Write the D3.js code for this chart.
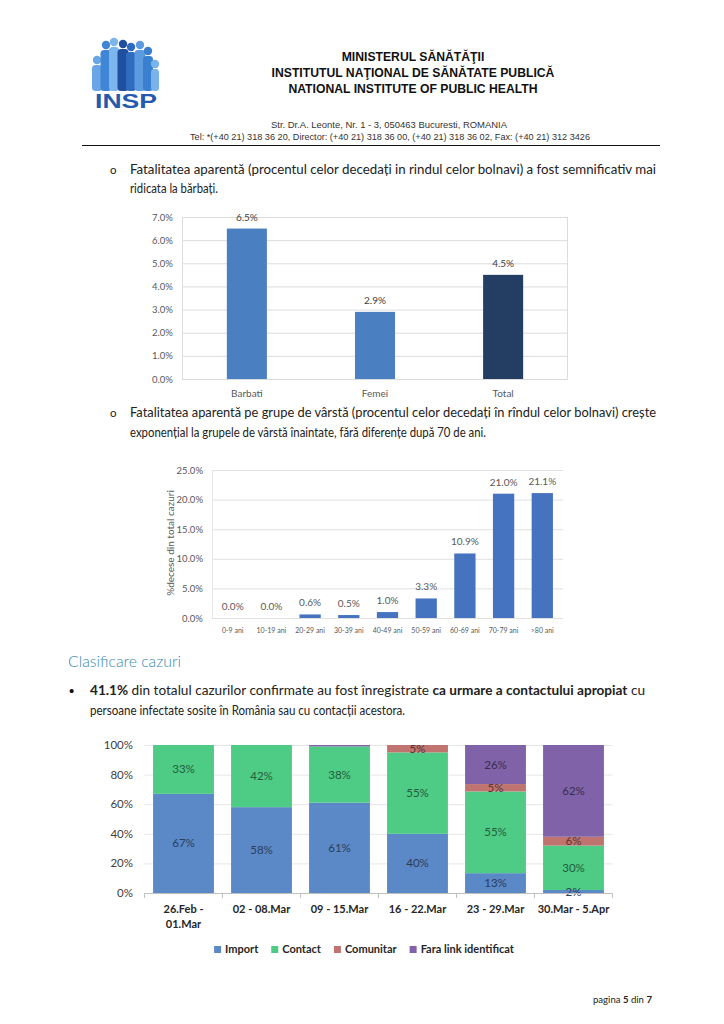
<!DOCTYPE html>
<html><head><meta charset="utf-8">
<script src="https://cdn.jsdelivr.net/npm/d3@7"></script>
<style>body{margin:0;background:#fff}svg{display:block}</style>
</head><body>
<svg id="page" width="724" height="1024"></svg>
<script>
// ---------- DATA ----------
const sexCategories = ["Barbati", "Femei", "Total"];
const sexValues = [6.5, 2.9, 4.5];
const sexTicks = [0, 1, 2, 3, 4, 5, 6, 7];

const ageCategories = ["0-9 ani", "10-19 ani", "20-29 ani", "30-39 ani", "40-49 ani", "50-59 ani", "60-69 ani", "70-79 ani", ">80 ani"];
const ageValues = [0.0, 0.0, 0.6, 0.5, 1.0, 3.3, 10.9, 21.0, 21.1];
const ageTicks = [0, 5, 10, 15, 20, 25];

const weekCategories = ["26.Feb - 01.Mar", "02 - 08.Mar", "09 - 15.Mar", "16 - 22.Mar", "23 - 29.Mar", "30.Mar - 5.Apr"];
const weekLabelLines = [["26.Feb -", "01.Mar"], ["02 - 08.Mar"], ["09 - 15.Mar"], ["16 - 22.Mar"], ["23 - 29.Mar"], ["30.Mar - 5.Apr"]];
const seriesNames = ["Import", "Contact", "Comunitar", "Fara link identificat"];
const importValues = [67, 58, 61, 40, 13.4, 2];
const contactValues = [33, 42, 38, 55, 55.2, 30];
const comunitarValues = [0, 0, 0, 5, 5, 6];
const faraLinkValues = [0, 0, 1, 0, 26.4, 62];
const weekTicks = [0, 20, 40, 60, 80, 100];

// ---------- PAGE ----------
const svg = d3.select("#page");
svg.append("rect").attr("width", 724).attr("height", 1024).attr("fill", "#fff");
const BODY = "Lato, 'Open Sans', sans-serif";
const ARIAL = "'Liberation Sans', Arial, sans-serif";

// Logo
const logo = svg.append("g");
const figs = [
  {x: 97, hy: 60, w: 10, c: "#6aa6e6"},
  {x: 106, hy: 45, w: 11, c: "#3f86d6"},
  {x: 114, hy: 42, w: 10, c: "#7db6ee"},
  {x: 123, hy: 44, w: 11, c: "#1f4f9e"},
  {x: 131, hy: 47, w: 10, c: "#2f6cc0"},
  {x: 140, hy: 45, w: 11, c: "#5d9be0"},
  {x: 148, hy: 51, w: 10, c: "#3a7fd0"},
  {x: 155, hy: 64, w: 8, c: "#7ab2ea"}
];
figs.forEach(f => {
  logo.append("circle").attr("cx", f.x).attr("cy", f.hy).attr("r", 4.2).attr("fill", f.c);
  logo.append("rect").attr("x", f.x - f.w / 2).attr("y", f.hy + 5).attr("width", f.w)
    .attr("height", 91 - f.hy - 5).attr("rx", 3.5).attr("fill", f.c);
});
logo.append("text").attr("x", 95).attr("y", 107.5).attr("textLength", 62).attr("lengthAdjust", "spacingAndGlyphs")
  .attr("font-family", ARIAL).attr("font-weight", "bold").attr("font-size", 21).attr("fill", "#2459ad").text("INSP");

// Header titles
const titles = ["MINISTERUL SĂNĂTĂŢII", "INSTITUTUL NAŢIONAL DE SĂNĂTATE PUBLICĂ", "NATIONAL INSTITUTE OF PUBLIC HEALTH"];
titles.forEach((t, i) => {
  svg.append("text").attr("x", 413).attr("y", 61 + i * 16).attr("text-anchor", "middle")
    .attr("font-family", ARIAL).attr("font-weight", "bold").attr("font-size", 12.2).attr("fill", "#111").text(t);
});
svg.append("text").attr("x", 389).attr("y", 127.5).attr("text-anchor", "middle")
  .attr("font-family", "'Liberation Sans Narrow', " + ARIAL).attr("font-size", 9.5).attr("fill", "#333")
  .attr("textLength", 236).attr("lengthAdjust", "spacingAndGlyphs")
  .text("Str. Dr.A. Leonte, Nr. 1 - 3, 050463 Bucuresti, ROMANIA");
svg.append("text").attr("x", 390).attr("y", 139.5).attr("text-anchor", "middle")
  .attr("font-family", "'Liberation Sans Narrow', " + ARIAL).attr("font-size", 9.5).attr("fill", "#333")
  .attr("textLength", 400).attr("lengthAdjust", "spacingAndGlyphs")
  .text("Tel: *(+40 21) 318 36 20, Director: (+40 21) 318 36 00, (+40 21) 318 36 02, Fax: (+40 21) 312 3426");
svg.append("line").attr("x1", 82).attr("x2", 660).attr("y1", 145.5).attr("y2", 145.5).attr("stroke", "#111").attr("stroke-width", 1);

// Body text helper
function bodyLine(x, y, parts, len, size) {
  const t = svg.append("text").attr("x", x).attr("y", y).attr("font-family", BODY)
    .attr("font-size", size || 12.5).attr("fill", "#222");
  if (len) t.attr("textLength", len).attr("lengthAdjust", "spacingAndGlyphs");
  parts.forEach(p => {
    const s = t.append("tspan").text(p.t);
    if (p.b) s.attr("font-weight", "bold");
  });
  return t;
}
function bulletO(y) {
  svg.append("text").attr("x", 110).attr("y", y).attr("font-family", BODY).attr("font-size", 11.5).attr("fill", "#222").text("o");
}
bulletO(174);
bodyLine(130, 174, [{t: "Fatalitatea aparentă (procentul celor decedați in rindul celor bolnavi) a fost semnificativ mai"}], 526);
bodyLine(130, 193, [{t: "ridicata la bărbați."}], 88);
bulletO(417);
bodyLine(130, 417, [{t: "Fatalitatea aparentă pe grupe de vârstă (procentul celor decedați în rîndul celor bolnavi) crește"}], 526);
bodyLine(130, 437, [{t: "exponențial la grupele de vârstă înaintate, fără diferențe după 70 de ani."}], 356);

svg.append("text").attr("x", 68).attr("y", 667).attr("font-family", BODY).attr("font-weight", 300)
  .attr("font-size", 15.5).attr("fill", "#3a8ab0").attr("textLength", 113).attr("lengthAdjust", "spacingAndGlyphs").text("Clasificare cazuri");
svg.append("text").attr("x", 69).attr("y", 696).attr("font-family", ARIAL).attr("font-size", 15).attr("fill", "#111").text("•");
bodyLine(90, 695, [{t: "41.1%", b: 1}, {t: " din totalul cazurilor confirmate au fost înregistrate "}, {t: "ca urmare a contactului apropiat", b: 1}, {t: " cu"}], 555);
bodyLine(90, 715, [{t: "persoane infectate sosite în România sau cu contacții acestora."}], 315);

bodyLine(593, 1003, [{t: "pagina "}, {t: "5", b: 1}, {t: " din "}, {t: "7", b: 1}], 59, 9);

// ---------- CHART 1 : by sex ----------
(function () {
  const g = svg.append("g");
  const x = d3.scaleBand().domain(sexCategories).range([182, 568]).paddingInner(0.6875).paddingOuter(0.35);
  const y = d3.scaleLinear().domain([0, 7]).range([379, 217]);
  g.selectAll(".grid").data(sexTicks).join("line")
    .attr("x1", 182).attr("x2", 568).attr("y1", d => y(d) + 0.5).attr("y2", d => y(d) + 0.5)
    .attr("stroke", "#dcdcdc").attr("stroke-width", 1);
  g.append("line").attr("x1", 182.5).attr("x2", 182.5).attr("y1", 217).attr("y2", 379.5).attr("stroke", "#dcdcdc");
  g.append("line").attr("x1", 567.5).attr("x2", 567.5).attr("y1", 217).attr("y2", 379.5).attr("stroke", "#dcdcdc");
  g.selectAll(".tl").data(sexTicks).join("text")
    .attr("x", 173).attr("y", d => y(d) + 3.5).attr("text-anchor", "end")
    .attr("font-family", BODY).attr("font-size", 9.5).attr("fill", "#595959").text(d => d.toFixed(1) + "%");
  g.selectAll(".bar").data(sexCategories).join("rect")
    .attr("x", d => x(d)).attr("width", x.bandwidth())
    .attr("y", (d, i) => y(sexValues[i])).attr("height", (d, i) => y(0) - y(sexValues[i]))
    .attr("fill", (d, i) => i === 2 ? "#233e62" : "#4a7fc1");
  g.selectAll(".vl").data(sexCategories).join("text")
    .attr("x", d => x(d) + x.bandwidth() / 2).attr("y", (d, i) => y(sexValues[i]) - 8)
    .attr("text-anchor", "middle").attr("font-family", BODY).attr("font-size", 10).attr("fill", "#404040")
    .text((d, i) => sexValues[i].toFixed(1) + "%");
  g.selectAll(".cl").data(sexCategories).join("text")
    .attr("x", d => x(d) + x.bandwidth() / 2).attr("y", 397)
    .attr("text-anchor", "middle").attr("font-family", BODY).attr("font-size", 10).attr("fill", "#595959").text(d => d);
})();

// ---------- CHART 2 : by age ----------
(function () {
  const g = svg.append("g");
  const x = d3.scaleBand().domain(ageCategories).range([212, 563]).paddingInner(0.45).paddingOuter(0.26);
  const y = d3.scaleLinear().domain([0, 25]).range([618, 470]);
  g.selectAll(".grid").data(ageTicks).join("line")
    .attr("x1", 212).attr("x2", 563).attr("y1", d => y(d) + 0.5).attr("y2", d => y(d) + 0.5)
    .attr("stroke", "#e0e0e0");
  g.append("line").attr("x1", 212.5).attr("x2", 212.5).attr("y1", 470).attr("y2", 618.5).attr("stroke", "#e6e6e6");
  g.selectAll(".tl").data(ageTicks).join("text")
    .attr("x", 203).attr("y", d => y(d) + 3.5).attr("text-anchor", "end")
    .attr("font-family", BODY).attr("font-size", 9.5).attr("fill", "#595959").text(d => d.toFixed(1) + "%");
  g.append("text").attr("transform", "translate(174,543) rotate(-90)").attr("text-anchor", "middle")
    .attr("font-family", BODY).attr("font-size", 10).attr("fill", "#595959").text("%decese din total cazuri");
  g.selectAll(".bar").data(ageCategories).join("rect")
    .attr("x", d => x(d)).attr("width", x.bandwidth())
    .attr("y", (d, i) => y(ageValues[i])).attr("height", (d, i) => y(0) - y(ageValues[i]))
    .attr("fill", "#4673bf");
  g.selectAll(".vl").data(ageCategories).join("text")
    .attr("x", d => x(d) + x.bandwidth() / 2).attr("y", (d, i) => y(ageValues[i]) - 8)
    .attr("text-anchor", "middle").attr("font-family", BODY).attr("font-size", 10).attr("fill", "#595959")
    .text((d, i) => ageValues[i].toFixed(1) + "%");
  g.selectAll(".cl").data(ageCategories).join("text")
    .attr("x", d => x(d) + x.bandwidth() / 2).attr("y", 633)
    .attr("text-anchor", "middle").attr("font-family", BODY).attr("font-size", 7).attr("fill", "#595959").text(d => d);
})();

// ---------- CHART 3 : stacked classification ----------
(function () {
  const g = svg.append("g");
  const colors = ["#5b88c7", "#4ecb84", "#bf7470", "#7f62a8"];
  const x = d3.scaleBand().domain(weekCategories).range([144.5, 612.5]).paddingInner(0.22).paddingOuter(0.11);
  const y = d3.scaleLinear().domain([0, 100]).range([893, 745]);
  g.selectAll(".grid").data(weekTicks.filter(d => d > 0)).join("line")
    .attr("x1", 144.5).attr("x2", 612.5).attr("y1", d => y(d) + 0.5).attr("y2", d => y(d) + 0.5)
    .attr("stroke", "#e6e6e6");
  g.selectAll(".tl").data(weekTicks).join("text")
    .attr("x", 133).attr("y", d => y(d) + 4).attr("text-anchor", "end")
    .attr("font-family", BODY).attr("font-size", 11.5).attr("fill", "#404040").text(d => d + "%");
  const rows = weekCategories.map((w, i) => ({week: w, Import: importValues[i], Contact: contactValues[i],
    Comunitar: comunitarValues[i], "Fara link identificat": faraLinkValues[i]}));
  const stack = d3.stack().keys(seriesNames)(rows);
  stack.forEach((layer, li) => {
    g.selectAll(".s" + li).data(layer).join("rect")
      .attr("x", d => x(d.data.week)).attr("width", x.bandwidth())
      .attr("y", d => y(d[1])).attr("height", d => Math.max(0, y(d[0]) - y(d[1])))
      .attr("fill", colors[li]);
  });
  stack.forEach((layer, li) => {
    g.selectAll(".l" + li).data(layer.filter(d => d[1] - d[0] >= 2)).join("text")
      .attr("x", d => x(d.data.week) + x.bandwidth() / 2).attr("y", d => y((d[0] + d[1]) / 2) + 4)
      .attr("text-anchor", "middle").attr("font-family", BODY).attr("font-size", 11.5)
      .attr("fill", d3.color(colors[li]).darker(2.2))
      .text(d => Math.round(d[1] - d[0]) + "%");
  });
  // x axis line + ticks between categories
  g.append("line").attr("x1", 144.5).attr("x2", 612.5).attr("y1", 893.5).attr("y2", 893.5).attr("stroke", "#bfbfbf");
  const step = x.step();
  g.selectAll(".tk").data(d3.range(weekCategories.length + 1)).join("line")
    .attr("x1", i => 144.5 + i * step).attr("x2", i => 144.5 + i * step)
    .attr("y1", 893.5).attr("y2", 898).attr("stroke", "#bfbfbf");
  weekCategories.forEach((w, i) => {
    const t = g.append("text").attr("x", x(w) + x.bandwidth() / 2).attr("y", 913).attr("text-anchor", "middle")
      .attr("font-family", BODY).attr("font-weight", "bold").attr("font-size", 11).attr("fill", "#262626");
    weekLabelLines[i].forEach((ln, j) => t.append("tspan").attr("x", x(w) + x.bandwidth() / 2).attr("dy", j ? 15 : 0).text(ln));
  });
  // legend
  const lg = g.append("g");
  let cx = 0;
  seriesNames.forEach((s, i) => {
    lg.append("rect").attr("x", cx).attr("y", -7).attr("width", 7).attr("height", 7).attr("fill", colors[i]);
    const t = lg.append("text").attr("x", cx + 11).attr("y", 0).attr("font-family", BODY).attr("font-weight", "bold")
      .attr("font-size", 11).attr("fill", "#262626").text(s);
    cx += 11 + t.node().getComputedTextLength() + 13;
  });
  const total = cx - 13;
  lg.attr("transform", `translate(${364 - total / 2},953)`);
})();
</script>
</body></html>
